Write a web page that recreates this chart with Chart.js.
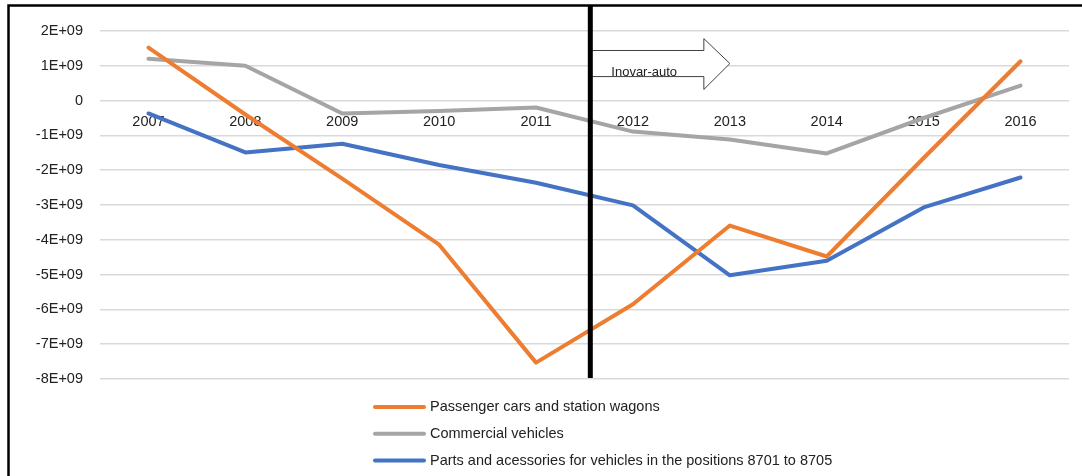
<!DOCTYPE html>
<html>
<head>
<meta charset="utf-8">
<script src="https://cdn.jsdelivr.net/npm/chart.js@4.4.1/dist/chart.umd.min.js"></script>
<style>
  html, body { margin: 0; padding: 0; background: #fff; }
  canvas { display: block; }
</style>
</head>
<body>
<canvas id="tradeChart" width="1082" height="476"></canvas>
<script>
// Trade balance by vehicle group, 2007-2016 (US$)
const years = ['2007', '2008', '2009', '2010', '2011', '2012', '2013', '2014', '2015', '2016'];
const passengerCars = [1.52e9, -0.40e9, -2.24e9, -4.14e9, -7.53e9, -5.85e9, -3.59e9, -4.48e9, -1.65e9, 1.13e9];
const commercialVehicles = [1.20e9, 1.00e9, -0.37e9, -0.30e9, -0.20e9, -0.89e9, -1.12e9, -1.52e9, -0.50e9, 0.43e9];
const partsAccessories = [-0.37e9, -1.49e9, -1.24e9, -1.85e9, -2.36e9, -3.01e9, -5.02e9, -4.60e9, -3.07e9, -2.21e9];
const seriesNames = [
    'Passenger cars and station wagons',
    'Commercial vehicles',
    'Parts and acessories for vehicles in the positions 8701 to 8705'
];
const seriesColors = ['#ED7D31', '#A5A5A5', '#4472C4'];

// Inovar-auto programme starts between 2011 and 2012 (category index)
const programStart = 4.56;
const programLabel = 'Inovar-auto';

const FONT = '"Liberation Sans", Arial, sans-serif';

// Frame, programme marker line and arrow, and the stacked legend
const decorations = {
    id: 'decorations',
    afterDatasetsDraw(chart) {
        const ctx = chart.ctx;
        const x = chart.scales.x;
        const y = chart.scales.y;
        const area = chart.chartArea;

        // position of the marker between two categories
        const i = Math.floor(programStart);
        const lineX = x.getPixelForValue(i) + (programStart - i) * (x.getPixelForValue(i + 1) - x.getPixelForValue(i));

        ctx.save();
        // block arrow pointing to 2013
        const tipX = x.getPixelForValue(6);
        const headX = tipX - 26;
        const startX = lineX + 2;
        const shaftTop = y.getPixelForValue(1.44e9);
        const shaftBot = y.getPixelForValue(0.69e9);
        const headTop = y.getPixelForValue(1.78e9);
        const headBot = y.getPixelForValue(0.32e9);
        const tipY = (shaftTop + shaftBot) / 2;
        ctx.beginPath();
        ctx.moveTo(startX, shaftTop);
        ctx.lineTo(headX, shaftTop);
        ctx.lineTo(headX, headTop);
        ctx.lineTo(tipX, tipY);
        ctx.lineTo(headX, headBot);
        ctx.lineTo(headX, shaftBot);
        ctx.lineTo(startX, shaftBot);
        ctx.fillStyle = '#fff';
        ctx.fill();
        ctx.strokeStyle = '#404040';
        ctx.lineWidth = 1;
        ctx.stroke();

        ctx.fillStyle = '#222';
        ctx.font = '13px ' + FONT;
        ctx.textAlign = 'left';
        ctx.textBaseline = 'middle';
        ctx.fillText(programLabel, lineX + 21, shaftBot - 4);

        // programme marker line
        ctx.beginPath();
        ctx.moveTo(lineX, 5);
        ctx.lineTo(lineX, area.bottom - 1);
        ctx.strokeStyle = '#000';
        ctx.lineWidth = 5;
        ctx.stroke();

        // outer frame (top and left edges)
        ctx.beginPath();
        ctx.moveTo(8.5, chart.height);
        ctx.lineTo(8.5, 5.5);
        ctx.lineTo(chart.width, 5.5);
        ctx.lineWidth = 2.5;
        ctx.stroke();

        // legend, one series per row
        ctx.font = '14.5px ' + FONT;
        ctx.textBaseline = 'middle';
        chart.data.datasets.forEach((ds, k) => {
            const rowY = area.bottom + 28 + k * 26.8;
            ctx.beginPath();
            ctx.moveTo(375, rowY);
            ctx.lineTo(424, rowY);
            ctx.strokeStyle = ds.borderColor;
            ctx.lineWidth = 4;
            ctx.lineCap = 'round';
            ctx.stroke();
            ctx.fillStyle = '#222';
            ctx.fillText(ds.label, 430, rowY);
        });
        ctx.restore();
    }
};

const ctx = document.getElementById('tradeChart').getContext('2d');
new Chart(ctx, {
    type: 'line',
    data: {
        labels: years,
        datasets: [passengerCars, commercialVehicles, partsAccessories].map((values, k) => ({
            label: seriesNames[k],
            data: values,
            borderColor: seriesColors[k],
            backgroundColor: seriesColors[k],
            borderWidth: 4,
            borderCapStyle: 'round',
            borderJoinStyle: 'round',
            pointRadius: 0,
            tension: 0,
            fill: false
        }))
    },
    options: {
        responsive: false,
        animation: false,
        layout: { padding: { left: 10, right: 13, top: 31, bottom: 97 } },
        plugins: {
            legend: { display: false },
            tooltip: { enabled: false }
        },
        scales: {
            x: {
                type: 'category',
                position: { y: 0 },
                offset: true,
                z: 1,
                grid: { display: false },
                border: { display: false },
                ticks: {
                    padding: 5,
                    maxRotation: 0,
                    color: '#222',
                    font: { family: FONT, size: 14.5 }
                }
            },
            y: {
                min: -8e9,
                max: 2e9,
                afterFit(scale) { scale.width = 90; },
                grid: { color: '#d9d9d9', lineWidth: 1.5, drawTicks: false },
                border: { display: false },
                ticks: {
                    stepSize: 1e9,
                    padding: 17,
                    color: '#222',
                    font: { family: FONT, size: 14.5 },
                    callback: (v) => v === 0 ? '0' : (v / 1e9) + 'E+09'
                }
            }
        }
    },
    plugins: [decorations]
});
</script>
</body>
</html>
